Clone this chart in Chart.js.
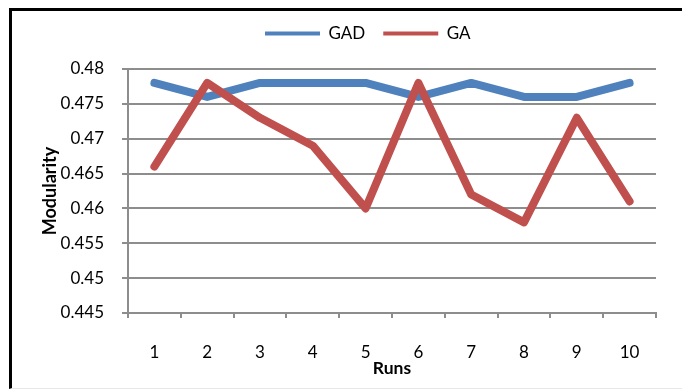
<!DOCTYPE html>
<html>
<head>
<meta charset="utf-8">
<title>Modularity</title>
<script src="https://cdn.jsdelivr.net/npm/chart.js@4/dist/chart.umd.min.js"></script>
<style>
  html, body { margin: 0; padding: 0; background: #fff; overflow: hidden; }
  #wrap { position: relative; width: 682px; height: 389px; }
  #frame {
    position: absolute; left: 9px; top: 8px; width: 700px; height: 377px;
    border-left: 3px solid #000; border-top: 3px solid #000; border-bottom: 1px solid #e8e8e8;
    pointer-events: none;
  }
</style>
</head>
<body>
<div id="wrap">
  <canvas id="modularity" width="682" height="389"></canvas>
  <div id="frame"></div>
</div>
<script>
// runs on the x axis
var runs = ['1', '2', '3', '4', '5', '6', '7', '8', '9', '10'];

// modularity per run
var gadValues = [0.478, 0.476, 0.478, 0.478, 0.478, 0.476, 0.478, 0.476, 0.476, 0.478];
var gaValues  = [0.466, 0.478, 0.473, 0.469, 0.460, 0.478, 0.462, 0.458, 0.473, 0.461];

// y axis ticks
var yTickValues = [0.445, 0.45, 0.455, 0.46, 0.465, 0.47, 0.475, 0.48];
var yTickLabels = ['0.445', '0.45', '0.455', '0.46', '0.465', '0.47', '0.475', '0.48'];

var gridColor = '#8d8d8d';

Chart.defaults.font.family = 'Lato, "Open Sans", sans-serif';
Chart.defaults.font.size = 17;
Chart.defaults.color = '#000';

// fixed legend height and left edge, like the excel layout
var legendPlace = {
  id: 'legendPlace',
  beforeInit: function(chart) {
    var fit = chart.legend.fit;
    chart.legend.fit = function() {
      fit.call(this);
      this.height = 62;
    };
  },
  afterLayout: function(chart) {
    chart.legend.left = 247;
  }
};

var data = {
  labels: runs,
  datasets: [{
    label: 'GAD',
    data: gadValues,
    borderColor: '#4f81bd',
    backgroundColor: '#4f81bd',
    borderWidth: 8,
    borderCapStyle: 'round',
    borderJoinStyle: 'round',
    pointRadius: 0,
    tension: 0,
    order: 1
  }, {
    label: 'GA',
    data: gaValues,
    borderColor: '#c0504d',
    backgroundColor: '#c0504d',
    borderWidth: 8,
    borderCapStyle: 'round',
    borderJoinStyle: 'round',
    pointRadius: 0,
    tension: 0,
    order: 0
  }]
};

var config = {
  type: 'line',
  data: data,
  options: {
    responsive: false,
    animation: false,
    layout: { padding: { top: 7, right: 26, bottom: 0, left: 0 } },
    plugins: {
      tooltip: { enabled: false },
      legend: {
        position: 'top',
        align: 'start',
        labels: {
          boxWidth: 55,
          boxHeight: 4,
          padding: 18,
          font: { size: 17 },
          sort: function(a, b) { return a.datasetIndex - b.datasetIndex; },
          generateLabels: function(chart) {
            var items = Chart.defaults.plugins.legend.labels.generateLabels(chart);
            items.forEach(function(item) {
              item.fillStyle = item.strokeStyle;
              item.lineWidth = 0;
            });
            return items;
          }
        }
      }
    },
    scales: {
      x: {
        offset: true,
        grid: { offset: true, drawOnChartArea: false, drawTicks: true, tickLength: 5, color: gridColor, lineWidth: 2 },
        border: { color: gridColor, width: 2 },
        ticks: { padding: 24, maxRotation: 0, font: { size: 17 } },
        title: { display: true, text: 'Runs', font: { size: 17.5, weight: 'bold' }, padding: { top: 0, bottom: 10 } },
        afterFit: function(scale) { scale.height = 76; }
      },
      y: {
        min: 0.445,
        max: 0.48,
        afterBuildTicks: function(scale) {
          scale.ticks = yTickValues.map(function(v) { return { value: v }; });
        },
        grid: { color: gridColor, lineWidth: 2, tickLength: 6 },
        border: { color: gridColor, width: 2 },
        ticks: {
          padding: 18,
          font: { size: 17 },
          callback: function(value, index) { return yTickLabels[index]; }
        },
        title: { display: true, text: 'Modularity', font: { size: 18, weight: 'bold' }, padding: { top: 39, bottom: 0 } },
        afterFit: function(scale) { scale.width = 128; }
      }
    }
  },
  plugins: [legendPlace]
};

var chart = new Chart(document.getElementById('modularity'), config);
</script>
</body>
</html>
